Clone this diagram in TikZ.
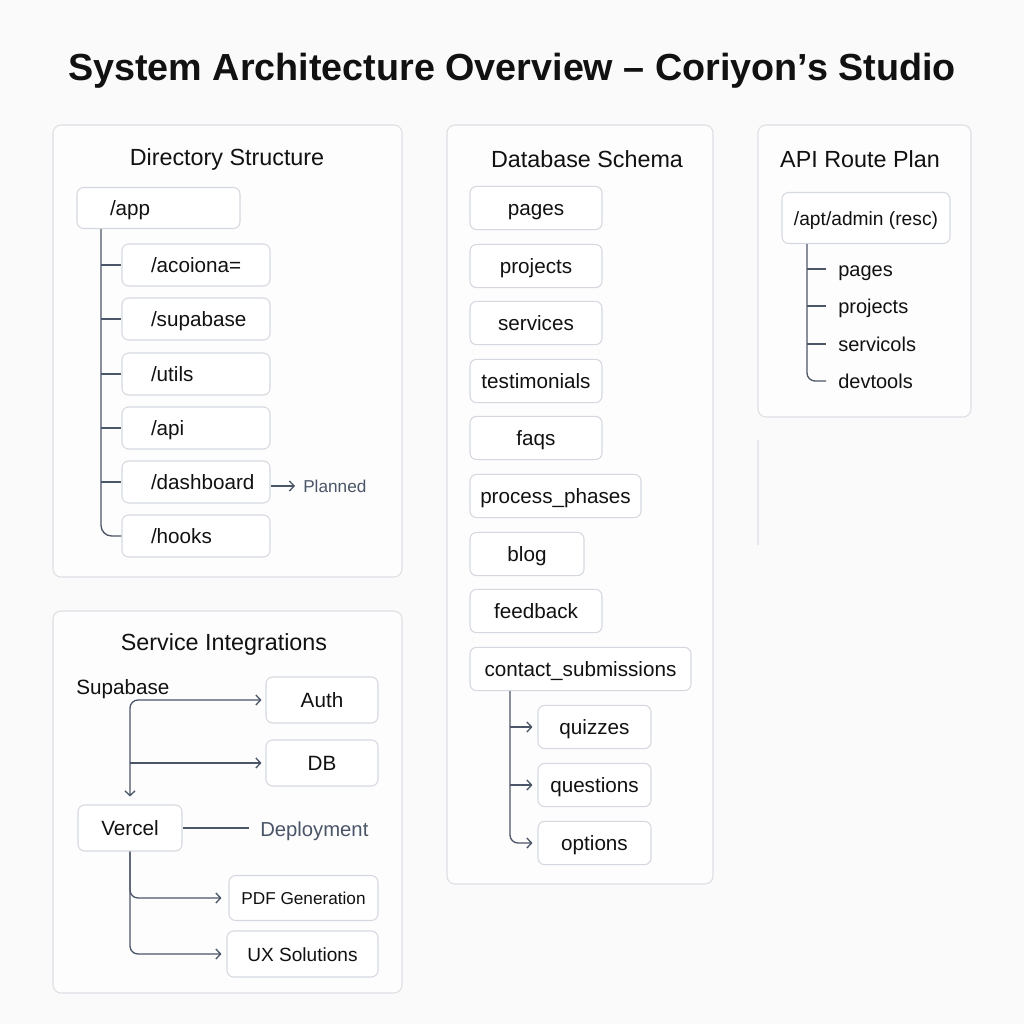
\documentclass[tikz,border=0pt]{standalone}
\usepackage{fontspec}
\setmainfont{Liberation Sans}
\usetikzlibrary{arrows.meta}
\definecolor{bg}{HTML}{FAFAFA}
\definecolor{panelfill}{HTML}{FDFDFD}
\definecolor{panelline}{HTML}{DCDFE4}
\definecolor{boxline}{HTML}{D5D9DF}
\definecolor{linec}{HTML}{4B5669}
\definecolor{graytext}{HTML}{4A5568}
\definecolor{ink}{HTML}{111111}
\definecolor{faintc}{HTML}{E6E8EB}
\begin{document}
\begin{tikzpicture}[x=0.75pt,y=-0.75pt,
  panel/.style={draw=panelline, fill=panelfill, rounded corners=6pt, line width=0.8pt},
  ptitle/.style={text=ink, font=\fontsize{17.5}{21}\selectfont, inner sep=0pt},
  box/.style={draw=boxline, fill=white, rounded corners=5pt, line width=0.8pt, text=ink,
    font=\fontsize{15.5}{18}\selectfont, inner sep=0pt, text height=14pt, text depth=3.5pt},
  dirbox/.style={box, minimum height=31.5pt, text width=67.5pt, inner xsep=21.75pt, align=left},
  dbbox/.style={box, minimum height=32.5pt},
  plain/.style={text=ink, font=\fontsize{15.5}{18}\selectfont, inner sep=0pt, text height=14pt, text depth=3.5pt},
  tree/.style={draw=linec, line width=1pt},
  arr/.style={draw=linec, line width=1pt, -{Straight Barb[length=3.5pt,width=7.5pt]}}
]
\useasboundingbox (0,0) rectangle (1024,1024);
\fill[bg] (0,0) rectangle (1024,1024);

% title
\node[text=ink, font=\bfseries\fontsize{28.3}{32}\selectfont, inner sep=0pt] (title) at (512,71)
  {System Architecture Overview – Coriyon’s Studio};

% panels
\draw[panel] (53,125) rectangle (402,577);
\draw[panel] (53,611) rectangle (402,993);
\draw[panel] (447,125) rectangle (713,884);
\draw[panel] (758,125) rectangle (971,417);
\draw[faintc, line width=0.8pt] (758,440) -- (758,545);

% ---------- Directory Structure ----------
\node[ptitle] (t1) at (227,159) {Directory Structure};
\node[box, minimum height=30.75pt, text width=72.75pt, inner xsep=24.75pt, align=left] (app) at (158.5,208) {/app};
\node[dirbox] (acoi) at (196,265) {/acoiona=};
\node[dirbox] (supa) at (196,319) {/supabase};
\node[dirbox] (utils) at (196,374) {/utils};
\node[dirbox] (api) at (196,428) {/api};
\node[dirbox] (dash) at (196,482) {/dashboard};
\node[dirbox] (hooks) at (196,536) {/hooks};
\node[text=graytext, font=\fontsize{12.9}{15}\selectfont, anchor=west, inner xsep=6pt, inner ysep=0pt] (plan) at (295,486) {Planned};
\coordinate (T) at (101,0);
\draw[tree, rounded corners=8pt] (app.south -| T) |- (hooks.west);
\foreach \n in {acoi,supa,utils,api,dash}
  \draw[tree] (\n.west -| T) -- (\n.west);
\draw[arr] (dash.east |- plan.west) -- (plan.west);

% ---------- Service Integrations ----------
\node[ptitle] (t2) at (224,644) {Service Integrations};
\node[plain, anchor=west] (supatxt) at (76,687) {Supabase};
\node[box, minimum width=84pt, minimum height=34.5pt] (auth) at (322,700) {Auth};
\node[box, minimum width=84pt, minimum height=34.5pt] (db) at (322,763) {DB};
\node[box, minimum width=78pt, minimum height=34.5pt] (vercel) at (130,828) {Vercel};
\node[text=graytext, font=\fontsize{15.2}{18}\selectfont, anchor=west, inner xsep=8.25pt, inner ysep=0pt, text height=14pt, text depth=3.5pt] (dep) at (249,829) {Deployment};
\node[box, minimum width=111.75pt, minimum height=33.75pt, font=\fontsize{12.9}{15}\selectfont, text height=12.5pt, text depth=3pt] (pdf) at (303.5,898) {PDF Generation};
\node[box, minimum width=113.25pt, minimum height=34.5pt, font=\fontsize{14.3}{17}\selectfont] (ux) at (302.5,954) {UX Solutions};
\draw[tree, rounded corners=6pt, {Straight Barb[length=3.5pt,width=7.5pt]}-{Straight Barb[length=3.5pt,width=7.5pt]},
  shorten <=6pt, shorten >=3pt] (vercel.north) |- (auth.west);
\draw[arr, shorten >=3pt] (vercel.north |- db.west) -- (db.west);
\draw[tree] (vercel.east) -- (vercel.east -| dep.west);
\draw[arr, rounded corners=6pt, shorten >=5.25pt] (vercel.south) |- (pdf.west);
\draw[arr, rounded corners=6pt, shorten >=3.75pt] (vercel.south) |- (ux.west);

% ---------- Database Schema ----------
\node[ptitle] (t3) at (587,159) {Database Schema};
\node[dbbox, minimum width=99pt] (pages) at (536,208) {pages};
\node[dbbox, minimum width=99pt] (projects) at (536,266) {projects};
\node[dbbox, minimum width=99pt] (services) at (536,323) {services};
\node[dbbox, minimum width=99pt] (testi) at (536,381) {testimonials};
\node[dbbox, minimum width=99pt] (faqs) at (536,438) {faqs};
\node[dbbox, minimum width=128.25pt] (phases) at (555.5,496) {process\_phases};
\node[dbbox, minimum width=85.5pt] (blog) at (527,554) {blog};
\node[dbbox, minimum width=99pt] (feedback) at (536,611) {feedback};
\node[dbbox, minimum width=165.75pt] (contact) at (580.5,669) {contact\_submissions};
\node[dbbox, minimum width=84.75pt] (quiz) at (594.5,727) {quizzes};
\node[dbbox, minimum width=84.75pt] (quest) at (594.5,785) {questions};
\node[dbbox, minimum width=84.75pt] (opts) at (594.5,843) {options};
\coordinate (D) at (510,0);
\draw[arr, rounded corners=6pt, shorten >=3.75pt] (contact.south -| D) |- (opts.west);
\draw[arr, shorten >=3.75pt] (quiz.west -| D) -- (quiz.west);
\draw[arr, shorten >=3.75pt] (quest.west -| D) -- (quest.west);

% ---------- API Route Plan ----------
\node[ptitle] (t4) at (860,159) {API Route Plan};
\node[box, minimum width=126pt, minimum height=38.25pt, font=\fontsize{14.4}{17}\selectfont] (apibox) at (866,218) {/apt/admin (resc)};
\node[plain, anchor=west, font=\fontsize{15}{18}\selectfont] (ap1) at (838,269) {pages};
\node[plain, anchor=west, font=\fontsize{15}{18}\selectfont] (ap2) at (838,306) {projects};
\node[plain, anchor=west, font=\fontsize{15}{18}\selectfont] (ap3) at (838,344) {servicols};
\node[plain, anchor=west, font=\fontsize{15}{18}\selectfont] (ap4) at (838,381) {devtools};
\coordinate (A) at (807,0);
\draw[tree, rounded corners=6pt, shorten >=9pt] (apibox.south -| A) |- (ap4.west);
\foreach \n in {ap1,ap2,ap3}
  \draw[tree, shorten >=9pt] (\n.west -| A) -- (\n.west);
\end{tikzpicture}
\end{document}
